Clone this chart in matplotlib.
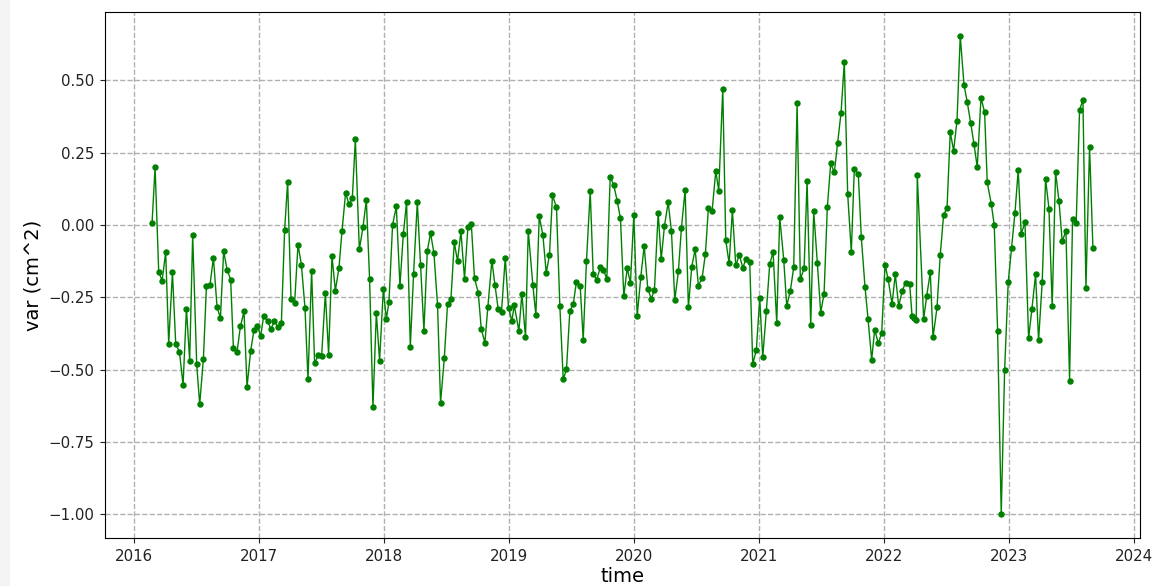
import matplotlib
matplotlib.use("Agg")
import matplotlib.pyplot as plt
import numpy as np

# acquisition dates (decimal years) and variance per epoch
dates = [
    2016.144, 2016.168, 2016.197, 2016.224, 2016.253, 2016.277, 2016.307, 2016.333, 2016.363, 2016.392,
    2016.419, 2016.445, 2016.469, 2016.501, 2016.525, 2016.555, 2016.579, 2016.608, 2016.635, 2016.664,
    2016.691, 2016.717, 2016.744, 2016.773, 2016.795, 2016.824, 2016.851, 2016.880, 2016.904, 2016.933,
    2016.960, 2016.987, 2017.013, 2017.037,
    2017.069, 2017.096, 2017.123, 2017.152, 2017.179, 2017.205, 2017.229, 2017.256, 2017.285, 2017.312,
    2017.339, 2017.368, 2017.392, 2017.421, 2017.445, 2017.475, 2017.501, 2017.531, 2017.557, 2017.584,
    2017.611, 2017.640, 2017.664, 2017.693, 2017.720, 2017.747, 2017.771, 2017.803, 2017.832, 2017.859,
    2017.885, 2017.912, 2017.939, 2017.965, 2017.995, 2018.019, 2018.040,
    2018.069, 2018.099, 2018.128, 2018.155, 2018.181, 2018.211, 2018.237, 2018.267, 2018.293, 2018.320,
    2018.347, 2018.373, 2018.400, 2018.429, 2018.453, 2018.483, 2018.509, 2018.536, 2018.563, 2018.589,
    2018.616, 2018.645, 2018.672, 2018.699, 2018.725, 2018.755, 2018.779, 2018.808, 2018.832, 2018.864,
    2018.888, 2018.915, 2018.941, 2018.971, 2018.997, 2019.024, 2019.043,
    2019.080, 2019.104, 2019.133, 2019.155, 2019.192, 2019.216, 2019.243, 2019.272, 2019.299, 2019.325,
    2019.349, 2019.381, 2019.408, 2019.435, 2019.461, 2019.488, 2019.515, 2019.541, 2019.571, 2019.595,
    2019.621, 2019.651, 2019.675, 2019.704, 2019.731, 2019.757, 2019.784, 2019.811, 2019.840, 2019.867,
    2019.893, 2019.920, 2019.947, 2019.973, 2020.000, 2020.027, 2020.056,
    2020.083, 2020.112, 2020.139, 2020.165, 2020.195, 2020.219, 2020.245, 2020.275, 2020.301, 2020.328,
    2020.357, 2020.381, 2020.411, 2020.437, 2020.464, 2020.491, 2020.517, 2020.547, 2020.573, 2020.597,
    2020.627, 2020.656, 2020.680, 2020.712, 2020.736, 2020.763, 2020.789, 2020.816, 2020.845, 2020.872,
    2020.899, 2020.928, 2020.952, 2020.981, 2021.008, 2021.032,
    2021.061, 2021.088, 2021.115, 2021.144, 2021.168, 2021.200, 2021.224, 2021.253, 2021.280, 2021.307,
    2021.333, 2021.363, 2021.387, 2021.416, 2021.440, 2021.469, 2021.496, 2021.523, 2021.549, 2021.576,
    2021.605, 2021.632, 2021.659, 2021.685, 2021.712, 2021.741, 2021.765, 2021.797, 2021.821, 2021.851,
    2021.875, 2021.904, 2021.928, 2021.957, 2021.984, 2022.011, 2022.035,
    2022.067, 2022.093, 2022.120, 2022.149, 2022.176, 2022.208, 2022.227, 2022.245, 2022.261, 2022.269,
    2022.320, 2022.344, 2022.373, 2022.395, 2022.427, 2022.453, 2022.480, 2022.507, 2022.533, 2022.560,
    2022.587, 2022.613, 2022.643, 2022.669, 2022.696, 2022.723, 2022.749, 2022.779, 2022.808, 2022.829,
    2022.861, 2022.885, 2022.912, 2022.941, 2022.968, 2022.997, 2023.024,
    2023.051, 2023.077, 2023.101, 2023.131, 2023.160, 2023.187, 2023.216, 2023.240, 2023.269, 2023.296,
    2023.323, 2023.349, 2023.376, 2023.403, 2023.429, 2023.459, 2023.488, 2023.512, 2023.541, 2023.568,
    2023.595, 2023.619, 2023.648, 2023.675,
]

var = [
    0.008, 0.200, -0.161, -0.193, -0.095, -0.410, -0.164, -0.410, -0.439, -0.553,
    -0.290, -0.469, -0.034, -0.481, -0.620, -0.462, -0.212, -0.206, -0.113, -0.284,
    -0.322, -0.090, -0.154, -0.189, -0.426, -0.439, -0.351, -0.299, -0.561, -0.435,
    -0.363, -0.348, -0.385, -0.315,
    -0.333, -0.360, -0.332, -0.354, -0.338, -0.017, 0.149, -0.256, -0.269, -0.068,
    -0.137, -0.287, -0.534, -0.159, -0.479, -0.449, -0.453, -0.236, -0.448, -0.108,
    -0.227, -0.148, -0.022, 0.111, 0.072, 0.094, 0.296, -0.084, -0.008, 0.086,
    -0.186, -0.630, -0.304, -0.470, -0.221, -0.325, -0.267,
    0.000, 0.064, -0.211, -0.032, 0.079, -0.421, -0.170, 0.079, -0.140, -0.365,
    -0.090, -0.028, -0.097, -0.277, -0.615, -0.461, -0.273, -0.257, -0.060, -0.125,
    -0.022, -0.186, -0.006, 0.005, -0.185, -0.234, -0.360, -0.407, -0.282, -0.123,
    -0.206, -0.292, -0.300, -0.113, -0.286, -0.332, -0.277,
    -0.367, -0.238, -0.388, -0.020, -0.208, -0.311, 0.030, -0.034, -0.166, -0.103,
    0.103, 0.061, -0.281, -0.534, -0.499, -0.297, -0.274, -0.196, -0.212, -0.397,
    -0.126, 0.116, -0.169, -0.189, -0.147, -0.156, -0.186, 0.167, 0.137, 0.083,
    0.023, -0.247, -0.149, -0.201, 0.034, -0.315, -0.179,
    -0.073, -0.220, -0.255, -0.226, 0.043, -0.119, -0.005, 0.079, -0.020, -0.259,
    -0.160, -0.010, 0.122, -0.284, -0.144, -0.084, -0.211, -0.182, -0.101, 0.058,
    0.050, 0.186, 0.119, 0.471, -0.053, -0.133, 0.051, -0.140, -0.103, -0.148,
    -0.117, -0.128, -0.481, -0.432, -0.252, -0.458,
    -0.297, -0.135, -0.094, -0.339, 0.028, -0.120, -0.280, -0.228, -0.146, 0.421,
    -0.188, -0.150, 0.152, -0.347, 0.047, -0.131, -0.303, -0.237, 0.061, 0.213,
    0.182, 0.284, 0.389, 0.564, 0.106, -0.093, 0.193, 0.177, -0.043, -0.216,
    -0.326, -0.466, -0.362, -0.409, -0.374, -0.137, -0.186,
    -0.273, -0.171, -0.280, -0.227, -0.199, -0.203, -0.314, -0.321, -0.328, 0.173,
    -0.325, -0.247, -0.164, -0.389, -0.285, -0.103, 0.036, 0.058, 0.321, 0.257,
    0.361, 0.654, 0.485, 0.425, 0.354, 0.280, 0.200, 0.440, 0.390, 0.147,
    0.074, 0.000, -0.367, -1.000, -0.503, -0.198, -0.078,
    0.043, 0.190, -0.031, 0.009, -0.392, -0.289, -0.171, -0.399, -0.197, 0.159,
    0.057, -0.281, 0.183, 0.084, -0.057, -0.020, -0.538, 0.022, 0.007, 0.398,
    0.433, -0.218, 0.271, -0.080,
]

years = [2016, 2017, 2018, 2019, 2020, 2021, 2022, 2023, 2024]
yticks = [-1.0, -0.75, -0.5, -0.25, 0.0, 0.25, 0.5]

fig = plt.figure(figsize=(11.53, 5.86), dpi=100)
# light strip down the left edge
fig.patches.append(plt.Rectangle((0, 0), 10 / 1153, 1, transform=fig.transFigure,
                                 facecolor='#f4f4f4', edgecolor='none', zorder=0))
ax = fig.add_axes([0.0911, 0.0819, 0.8976, 0.8976])

ax.plot(np.array(dates), np.array(var), '-o', color='green', linewidth=1.0, markersize=3.6)

ax.set_xticks(years)
ax.set_xticklabels([str(y) for y in years])
ax.set_yticks(yticks)
ax.tick_params(labelsize=10.8, colors='#222222', pad=4.5)
ax.grid(True, linestyle='--', color='#b0b0b0', linewidth=1.0)
ax.set_xlabel('time', fontsize=14, labelpad=2)
ax.set_ylabel('var (cm^2)', fontsize=14)

fig.savefig('out.png', dpi=100)
